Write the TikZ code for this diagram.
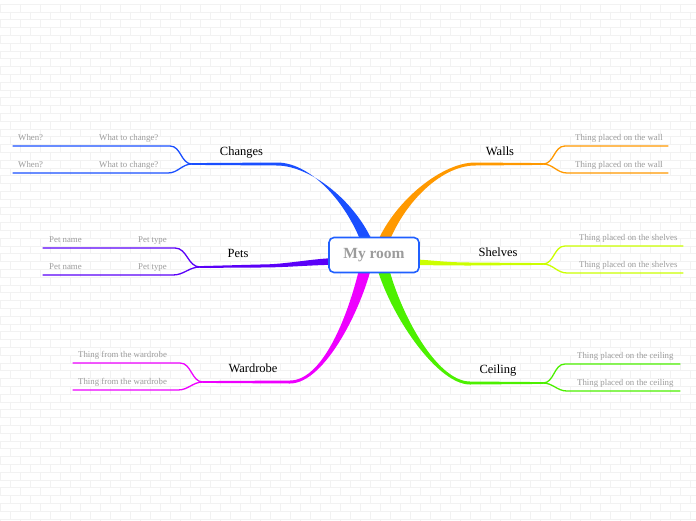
\documentclass[tikz,border=0pt]{standalone}
\usepackage{fontspec}
\setmainfont{Liberation Serif}
\usetikzlibrary{calc}
\definecolor{cchg}{HTML}{1A4FFF}
\definecolor{cwal}{HTML}{FF9900}
\definecolor{cshe}{HTML}{CCFF00}
\definecolor{cpet}{HTML}{5A00F8}
\definecolor{cwar}{HTML}{EE00FF}
\definecolor{ccei}{HTML}{4CF000}
\definecolor{cbox}{HTML}{2060FF}
\definecolor{cgry}{HTML}{9C9C9C}
\tikzset{
  hub/.style   = {draw=cbox, line width=1.6pt, rounded corners=5pt, fill=white,
                  minimum width=90pt, minimum height=35pt, inner sep=0pt,
                  font=\fontsize{15.5}{18}\selectfont\bfseries, text=cgry},
  topic/.style = {anchor=base, inner sep=0pt, font=\fontsize{12.5}{15}\selectfont},
  lf/.style    = {anchor=base west, inner sep=0pt, text=cgry,
                  font=\fontsize{8.8}{10}\selectfont},
  twig/.style  = {line width=1.3pt, line cap=round},
  brick/.style = {draw=black!5, line width=0.5pt},
}
% tapered main branch: colour, root, bend, junction, root ctrl, bend ctrl, root half-width
\newcommand\mmtrunk[7]{%
  \fill[#1] ($(#2)-#7$) .. controls +#5 and +#6 .. ($(#3)+(0,-1.5)$)
    -- ($(#4)+(0,-0.9)$) -- ($(#4)+(0,0.9)$) -- ($(#3)+(0,1.5)$)
    .. controls +#6 and +#5 .. ($(#2)+#7$) -- cycle;}

\begin{document}
\begin{tikzpicture}[x=1pt, y=-1pt]
  \useasboundingbox (0,0) rectangle (696,520);
  \fill[white] (0,0) rectangle (696,520);
  % wall of bricks
  \draw[brick] \foreach \r in {0,...,66}{ (0,4+\r*7.8) -- (696,4+\r*7.8)
     \foreach \c in {0,...,35}{ ({\c*20+mod(\r,2)*10},4+\r*7.8) -- ++(0,7.8) } };

  \coordinate (hubc) at (374,255);
  \coordinate (rChg) at (372,256); \coordinate (bChg) at (277,164); \coordinate (jChg) at (192,164);
  \coordinate (rWal) at (378,256); \coordinate (bWal) at (475,164); \coordinate (jWal) at (543,164);
  \coordinate (rShe) at (398,262); \coordinate (bShe) at (470,264); \coordinate (jShe) at (543,264);
  \coordinate (rPet) at (352,261); \coordinate (bPet) at (260,266); \coordinate (jPet) at (200,267);
  \coordinate (rWar) at (368,256); \coordinate (bWar) at (290,382); \coordinate (jWar) at (203,382);
  \coordinate (rCei) at (380,256); \coordinate (bCei) at (470,383); \coordinate (jCei) at (543,383);

  \mmtrunk{cchg}{rChg}{bChg}{jChg}{(-15,-50)}{(35,0)}{(6,0)}
  \mmtrunk{cwal}{rWal}{bWal}{jWal}{(15,-50)}{(-35,0)}{(6,0)}
  \mmtrunk{cshe}{rShe}{bShe}{jShe}{(30,0)}{(-30,0)}{(0,3)}
  \mmtrunk{cpet}{rPet}{bPet}{jPet}{(-40,0)}{(30,0)}{(0,3.5)}
  \mmtrunk{cwar}{rWar}{bWar}{jWar}{(-10,50)}{(35,0)}{(6,0)}
  \mmtrunk{ccei}{rCei}{bCei}{jCei}{(10,50)}{(-35,0)}{(-6,0)}

  % twigs
  \coordinate (chg1s) at (170,146); \coordinate (chg1e) at (13,146);
  \coordinate (chg2s) at (168,173); \coordinate (chg2e) at (13,173);
  \coordinate (pet1s) at (175,248); \coordinate (pet1e) at (43,248);
  \coordinate (pet2s) at (173,275); \coordinate (pet2e) at (43,275);
  \coordinate (war1s) at (180,363); \coordinate (war1e) at (73,363);
  \coordinate (war2s) at (178,390); \coordinate (war2e) at (73,390);
  \coordinate (wal1s) at (565,146); \coordinate (wal1e) at (668,146);
  \coordinate (wal2s) at (567,173); \coordinate (wal2e) at (668,173);
  \coordinate (she1s) at (565,246); \coordinate (she1e) at (683,246);
  \coordinate (she2s) at (567,273); \coordinate (she2e) at (683,273);
  \coordinate (cei1s) at (565,364); \coordinate (cei1e) at (680,364);
  \coordinate (cei2s) at (567,391); \coordinate (cei2e) at (680,391);

  \draw[twig, cchg] (jChg) to[out=180,in=0] (chg1s) -- (chg1e);
  \draw[twig, cchg] (jChg) to[out=180,in=0] (chg2s) -- (chg2e);
  \draw[twig, cpet] (jPet) to[out=180,in=0] (pet1s) -- (pet1e);
  \draw[twig, cpet] (jPet) to[out=180,in=0] (pet2s) -- (pet2e);
  \draw[twig, cwar] (jWar) to[out=180,in=0] (war1s) -- (war1e);
  \draw[twig, cwar] (jWar) to[out=180,in=0] (war2s) -- (war2e);
  \draw[twig, cwal] (jWal) to[out=0,in=180] (wal1s) -- (wal1e);
  \draw[twig, cwal] (jWal) to[out=0,in=180] (wal2s) -- (wal2e);
  \draw[twig, cshe] (jShe) to[out=0,in=180] (she1s) -- (she1e);
  \draw[twig, cshe] (jShe) to[out=0,in=180] (she2s) -- (she2e);
  \draw[twig, ccei] (jCei) to[out=0,in=180] (cei1s) -- (cei1e);
  \draw[twig, ccei] (jCei) to[out=0,in=180] (cei2s) -- (cei2e);

  \node[hub] (hub) at (hubc) {My room};

  \node[topic] (chg) at (241.5,155) {Changes};
  \node[topic] (wal) at (500,155)   {Walls};
  \node[topic] (she) at (498,256)   {Shelves};
  \node[topic] (pet) at (238,257)   {Pets};
  \node[topic] (war) at (253,372)   {Wardrobe};
  \node[topic] (cei) at (498,373.5) {Ceiling};

  \node[lf] (chgw1) at (18,140)  {When?};
  \node[lf] (chgq1) at (99,140)  {What to change?};
  \node[lf] (chgw2) at (18,167)  {When?};
  \node[lf] (chgq2) at (99,167)  {What to change?};
  \node[lf] (petn1) at (49,242)  {Pet name};
  \node[lf] (pett1) at (138,242) {Pet type};
  \node[lf] (petn2) at (49,269)  {Pet name};
  \node[lf] (pett2) at (138,269) {Pet type};
  \node[lf] (war1)  at (78,357)  {Thing from the wardrobe};
  \node[lf] (war2)  at (78,384)  {Thing from the wardrobe};
  \node[lf] (wal1)  at (575,140) {Thing placed on the wall};
  \node[lf] (wal2)  at (575,167) {Thing placed on the wall};
  \node[lf] (she1)  at (579,240) {Thing placed on the shelves};
  \node[lf] (she2)  at (579,267) {Thing placed on the shelves};
  \node[lf] (cei1)  at (577,358) {Thing placed on the ceiling};
  \node[lf] (cei2)  at (577,385) {Thing placed on the ceiling};
\end{tikzpicture}
\end{document}
